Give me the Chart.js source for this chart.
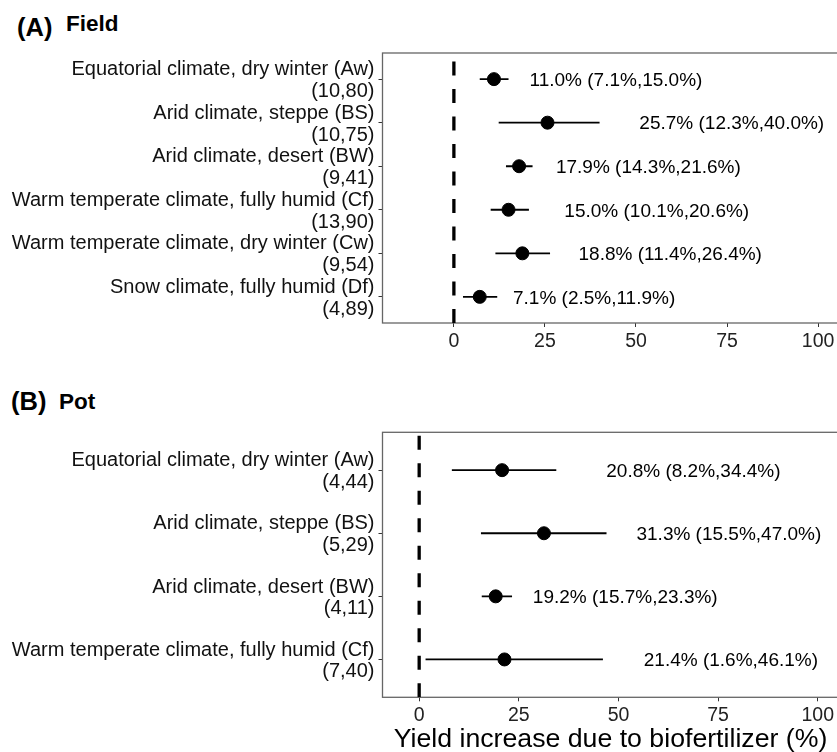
<!DOCTYPE html>
<html>
<head>
<meta charset="utf-8">
<script src="https://cdn.jsdelivr.net/npm/chart.js@4.4.1/dist/chart.umd.min.js"></script>
<style>
  html, body { margin: 0; padding: 0; background: #fff; width: 837px; height: 752px; overflow: hidden; }
  #wrap { position: relative; width: 837px; height: 752px; overflow: hidden; }
  canvas { position: absolute; left: 0; }
  .tag { position: absolute; font-family: "Liberation Sans", Arial, sans-serif; font-weight: bold; color: #000; white-space: nowrap; line-height: 1; }
</style>
</head>
<body>
<div id="wrap">
  <div class="tag" style="left:17px;top:15px;font-size:25.5px;">(A)</div>
  <div class="tag" style="left:66px;top:13px;font-size:22.5px;">Field</div>
  <canvas id="fieldChart" width="846" height="370" style="top:0px"></canvas>
  <div class="tag" style="left:11px;top:389px;font-size:25.5px;">(B)</div>
  <div class="tag" style="left:59px;top:391px;font-size:22.5px;">Pot</div>
  <canvas id="potChart" width="846" height="382" style="top:370px"></canvas>
</div>
<script>
// Field trials
var fieldZones = ['Equatorial climate, dry winter (Aw)', 'Arid climate, steppe (BS)', 'Arid climate, desert (BW)',
    'Warm temperate climate, fully humid (Cf)', 'Warm temperate climate, dry winter (Cw)', 'Snow climate, fully humid (Df)'];
var fieldCounts = ['(10,80)', '(10,75)', '(9,41)', '(13,90)', '(9,54)', '(4,89)'];
var fieldMean = [11.0, 25.7, 17.9, 15.0, 18.8, 7.1];
var fieldLow = [7.1, 12.3, 14.3, 10.1, 11.4, 2.5];
var fieldHigh = [15.0, 40.0, 21.6, 20.6, 26.4, 11.9];

// Pot trials
var potZones = ['Equatorial climate, dry winter (Aw)', 'Arid climate, steppe (BS)', 'Arid climate, desert (BW)',
    'Warm temperate climate, fully humid (Cf)'];
var potCounts = ['(4,44)', '(5,29)', '(4,11)', '(7,40)'];
var potMean = [20.8, 31.3, 19.2, 21.4];
var potLow = [8.2, 15.5, 15.7, 1.6];
var potHigh = [34.4, 47.0, 23.3, 46.1];

var xTicks = [0, 25, 50, 75, 100];

// where the text labels sit (centre, in axis units)
var fieldLabelAt = [44.5, 76.3, 53.4, 55.7, 59.4, 38.5];
var potLabelAt = [68.8, 77.7, 51.7, 78.2];

var FONT = '"Liberation Sans", Arial, sans-serif';

function pct(v) {
    return v.toFixed(1) + '%';
}

var panelBits = {
    id: 'panelBits',
    beforeDatasetsDraw: function (chart) {
        var a = chart.chartArea, ctx = chart.ctx;
        ctx.save();
        ctx.strokeStyle = '#666';
        ctx.lineWidth = 1.3;
        ctx.strokeRect(a.left, a.top, a.right - a.left, a.bottom - a.top);
        ctx.restore();
    },
    afterDatasetsDraw: function (chart) {
        var o = chart.options.plugins.panelBits;
        var x = chart.scales.x, y = chart.scales.y, ctx = chart.ctx;
        ctx.save();
        ctx.fillStyle = '#000';
        ctx.font = '19px ' + FONT;
        ctx.textAlign = 'center';
        ctx.textBaseline = 'middle';
        for (var i = 0; i < o.mean.length; i++) {
            var txt = pct(o.mean[i]) + ' (' + pct(o.low[i]) + ',' + pct(o.high[i]) + ')';
            ctx.fillText(txt, x.getPixelForValue(o.labelAt[i]), y.getPixelForValue(i + 1) + 1.5);
        }
        ctx.restore();
    }
};

function makePanel(canvasId, zones, counts, mean, low, high, labelAt, xmin, xmax, padTop, axisH, showTitle) {
    var n = zones.length;
    var rows = [];
    for (var i = 0; i < n; i++) rows.push(i + 1);

    var datasets = [{
        type: 'line',
        data: [{x: 0, y: n + 0.6}, {x: 0, y: 0.4}],
        borderColor: '#000',
        borderWidth: 3.3,
        borderDash: [14, 13.5],
        pointRadius: 0
    }];
    for (var j = 0; j < n; j++) {
        datasets.push({
            type: 'line',
            data: [{x: low[j], y: j + 1}, {x: high[j], y: j + 1}],
            borderColor: '#000',
            borderWidth: 1.8,
            pointRadius: 0
        });
    }
    datasets.push({
        type: 'scatter',
        data: mean.map(function (m, k) { return {x: m, y: k + 1}; }),
        backgroundColor: '#000',
        borderColor: '#000',
        pointRadius: 6.5,
        pointHoverRadius: 6.5
    });

    return new Chart(document.getElementById(canvasId), {
        type: 'scatter',
        data: {datasets: datasets},
        plugins: [panelBits],
        options: {
            responsive: false,
            animation: false,
            layout: {padding: {top: padTop, right: 6.5, left: 0, bottom: 0}},
            plugins: {
                legend: {display: false},
                tooltip: {enabled: false},
                panelBits: {mean: mean, low: low, high: high, labelAt: labelAt}
            },
            scales: {
                x: {
                    type: 'linear',
                    min: xmin,
                    max: xmax,
                    afterBuildTicks: function (s) { s.ticks = xTicks.map(function (v) { return {value: v}; }); },
                    afterFit: function (s) { s.height = axisH; },
                    grid: {drawOnChartArea: false, drawTicks: true, tickLength: 4, tickColor: '#333', lineWidth: 1},
                    border: {display: false},
                    ticks: {color: '#222', font: {family: FONT, size: 19.5}, padding: 3, maxRotation: 0},
                    title: {
                        display: showTitle,
                        text: 'Yield increase due to biofertilizer (%)',
                        color: '#000',
                        font: {family: FONT, size: 26.7, lineHeight: 0.9},
                        padding: {top: 0, bottom: 0}
                    }
                },
                y: {
                    type: 'linear',
                    reverse: true,
                    min: 0.4,
                    max: n + 0.6,
                    afterBuildTicks: function (s) { s.ticks = rows.map(function (v) { return {value: v}; }); },
                    afterFit: function (s) { s.width = 382.5; },
                    grid: {drawOnChartArea: false, drawTicks: true, tickLength: 4, tickColor: '#333', lineWidth: 1},
                    border: {display: false},
                    ticks: {
                        color: '#111',
                        font: {family: FONT, size: 20, lineHeight: 1.085},
                        padding: 4,
                        labelOffset: 1.5,
                        callback: function (v) { return [zones[v - 1], counts[v - 1]]; }
                    }
                }
            }
        }
    });
}

makePanel('fieldChart', fieldZones, fieldCounts, fieldMean, fieldLow, fieldHigh, fieldLabelAt,
    -19.6, 105.6, 53, 47, false);
makePanel('potChart', potZones, potCounts, potMean, potLow, potHigh, potLabelAt,
    -9.2, 105.2, 62.3, 54.7, true);
</script>
</body>
</html>
